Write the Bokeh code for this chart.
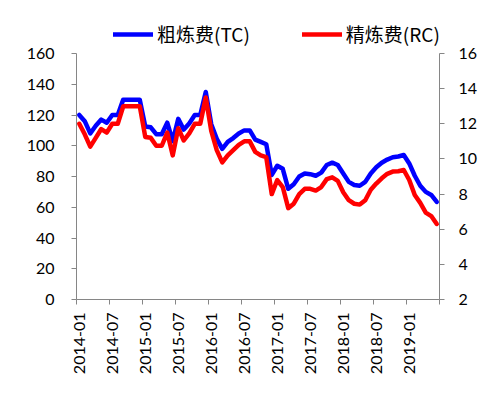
import math
from bokeh.plotting import figure
from bokeh.models import Range1d, LinearAxis, FixedTicker, Legend, LegendItem, ColumnDataSource
from bokeh.embed import file_html
from bokeh.resources import INLINE

# categories: monthly, 2014-01 .. 2019-06
years = [2014, 2015, 2016, 2017, 2018, 2019]
months = [f"{y}-{m:02d}" for y in years for m in range(1, 13)][:66]

# 粗炼费 (TC), left axis
tc = [120, 116, 108, 113, 117, 115, 120, 120, 130, 130, 130, 130,
      112.5, 112, 107.5, 107.5, 115, 103, 117.5, 110.5, 114.5, 120, 120, 135,
      114, 104.5, 98, 102.5, 105, 108, 110, 110, 104, 102.5, 101, 81,
      87, 85, 72, 75, 80, 82, 81.5, 80.5, 82.5, 87.5, 89, 87.5,
      82, 76.5, 74.5, 74, 76.5, 82, 86, 89, 91, 92.5, 93, 94,
      88.5, 80.5, 74, 70, 68, 63.5]

# 精炼费 (RC), right axis
rc = [12, 11.4, 10.7, 11.2, 11.7, 11.5, 12, 12, 13, 13, 13, 13,
      11.25, 11.2, 10.75, 10.75, 11.5, 10.2, 11.75, 11.05, 11.45, 12, 12, 13.5,
      11.6, 10.5, 9.8, 10.2, 10.5, 10.8, 11, 11, 10.4, 10.2, 10.1, 8,
      8.8, 8.4, 7.2, 7.45, 8, 8.3, 8.3, 8.2, 8.4, 8.85, 8.95, 8.75,
      8.1, 7.65, 7.45, 7.4, 7.65, 8.25, 8.6, 8.9, 9.15, 9.28, 9.3, 9.37,
      8.8, 7.95, 7.5, 6.95, 6.75, 6.3]

tc_name = "粗炼费(TC)"
rc_name = "精炼费(RC)"
left_ticks = [0, 20, 40, 60, 80, 100, 120, 140, 160]
right_ticks = [2, 4, 6, 8, 10, 12, 14, 16]
label_step = 6

n = len(months)
idx = list(range(n))
src = ColumnDataSource(dict(x=idx, tc=tc, rc=rc))

AX = "#868686"
FONT = "Lato"

# layout (pixels)
W, H = 491, 386
B_LEFT, B_RIGHT, B_TOP, B_BOTTOM = 76, 52, 20, 87
AXIS_TOP = 53            # where the top tick (160 / 16) sits
frame_h = H - B_TOP - B_BOTTOM
axis_h = frame_h - (AXIS_TOP - B_TOP)
scale = frame_h / axis_h

l0, l1 = left_ticks[0], left_ticks[-1]
r0, r1 = right_ticks[0], right_ticks[-1]

p = figure(width=W, height=H, output_backend="svg", toolbar_location=None,
           x_range=Range1d(-0.5, n - 0.5),
           y_range=Range1d(l0, l0 + (l1 - l0) * scale),
           min_border_left=B_LEFT, min_border_right=B_RIGHT,
           min_border_top=B_TOP, min_border_bottom=B_BOTTOM)
p.extra_y_ranges = {"rc": Range1d(r0, r0 + (r1 - r0) * scale)}
p.grid.visible = False
p.outline_line_color = None
p.background_fill_color = "white"
p.border_fill_color = "white"

# x axis: labels at category centres, tick marks at category boundaries
xa = p.xaxis[0]
xa.ticker = FixedTicker(ticks=idx[::label_step],
                        minor_ticks=[i - 0.5 for i in range(0, n + 1, label_step)])
xa.major_label_overrides = {i: months[i] for i in idx[::label_step]}
xa.major_label_orientation = math.pi / 2
xa.major_tick_line_alpha = 0
xa.major_tick_out = 5
xa.major_tick_in = 0
xa.minor_tick_out = 5
xa.minor_tick_in = 0
xa.minor_tick_line_color = AX
xa.axis_line_color = AX
xa.major_label_standoff = 8
xa.major_label_text_font = FONT
xa.major_label_text_font_size = "16px"
xa.major_label_text_color = "black"

ya = p.yaxis[0]
ya.ticker = FixedTicker(ticks=left_ticks)
ya.bounds = (l0, l1)
ya.major_tick_out = 5
ya.major_tick_in = 0
ya.minor_tick_line_color = None
ya.major_tick_line_color = AX
ya.axis_line_color = AX
ya.major_label_standoff = 17
ya.major_label_text_font = FONT
ya.major_label_text_font_size = "16px"
ya.major_label_text_color = "black"

ra = LinearAxis(y_range_name="rc", ticker=FixedTicker(ticks=right_ticks), bounds=(r0, r1))
ra.major_tick_out = 5
ra.major_tick_in = 0
ra.minor_tick_line_color = None
ra.major_tick_line_color = AX
ra.axis_line_color = AX
ra.major_label_standoff = 14
ra.major_label_text_font = FONT
ra.major_label_text_font_size = "16px"
ra.major_label_text_color = "black"
p.add_layout(ra, "right")

r_tc = p.line("x", "tc", source=src, line_color="#0000FF", line_width=4.5,
              line_join="round", line_cap="round")
r_rc = p.line("x", "rc", source=src, y_range_name="rc", line_color="#FF0000",
              line_width=4.5, line_join="round", line_cap="round")

LEG_H = 24
legend = Legend(items=[LegendItem(label=tc_name, renderers=[r_tc]),
                       LegendItem(label=rc_name, renderers=[r_rc])],
                orientation="horizontal",
                location=(37, frame_h - (35 - B_TOP) - LEG_H // 2),
                padding=0, margin=0, spacing=52, glyph_width=40, glyph_height=LEG_H,
                label_height=LEG_H, label_standoff=4,
                label_text_font="Noto Sans CJK SC", label_text_font_size="19px",
                label_text_color="black", background_fill_alpha=0,
                border_line_color=None)
p.add_layout(legend, "center")

open("out.html", "w").write(file_html(p, INLINE))
